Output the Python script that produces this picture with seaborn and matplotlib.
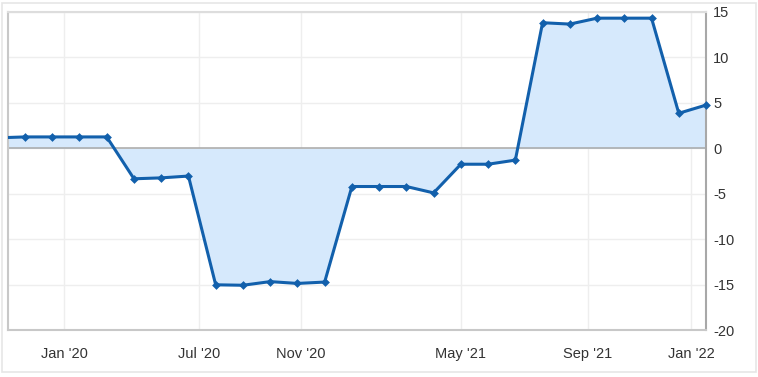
import matplotlib
matplotlib.use("Agg")
import matplotlib.pyplot as plt
import seaborn as sns
import pandas as pd
from matplotlib.patches import Rectangle

# ---- data ----
point_index = list(range(-1, 26))
values = [1.15, 1.25, 1.25, 1.25, 1.25, -3.35, -3.25, -3.05,
          -15.0, -15.05, -14.65, -14.85, -14.7,
          -4.2, -4.2, -4.2, -4.9, -1.75, -1.75, -1.3,
          13.8, 13.65, 14.3, 14.3, 14.3, 3.85, 4.75]
tick_pos = [1.43, 6.39, 10.13, 16.0, 20.67, 24.45]
tick_labels = ["Jan '20", "Jul '20", "Nov '20", "May '21", "Sep '21", "Jan '22"]
y_ticks = [15, 10, 5, 0, -5, -10, -15, -20]

df = pd.DataFrame({"idx": point_index, "value": values})

sns.set_theme(style="white")
plt.rcParams['font.family'] = ['Liberation Sans', 'DejaVu Sans']

W, H = 758, 377
fig = plt.figure(figsize=(W / 100, H / 100), dpi=100)
fig.patch.set_facecolor("white")
# outer light frame
fig.patches.append(Rectangle((2 / W, 5 / H), 754 / W, 369 / H, transform=fig.transFigure,
                             fill=False, edgecolor="#e6e6e6", linewidth=1.2))

left, right, top, bottom = 8, 706.3, 11.8, 330.3
ax = fig.add_axes([left / W, (H - bottom) / H, (right - left) / W, (bottom - top) / H])
ax.set_facecolor("white")

line_col = "#1260ac"
fill_col = "#d6e9fc"

ax.fill_between(df["idx"], df["value"], 0, color=fill_col, linewidth=0, zorder=1)
ax.axhline(0, color="#a8a8a8", linewidth=1.1, zorder=2)
sns.lineplot(data=df, x="idx", y="value", ax=ax, color=line_col, linewidth=2.2, zorder=3)
vis = df[df["idx"] >= 0]
sns.scatterplot(data=vis, x="idx", y="value", ax=ax, color=line_col, marker="D", s=20,
                linewidth=0, zorder=4, clip_on=False)

ax.set_xlim(-0.624, 25.01)
ax.set_ylim(-20, 15)
ax.set_xticks(tick_pos)
ax.set_xticklabels(tick_labels)
ax.set_yticks(y_ticks)
ax.set_yticklabels([str(v) for v in y_ticks])
ax.yaxis.tick_right()
ax.tick_params(axis="both", length=0, labelsize=10.5, labelcolor="#333333")
ax.tick_params(axis="y", pad=5)
ax.tick_params(axis="x", pad=12)
ax.grid(True, color="#eeeeee", linewidth=1)
ax.set_axisbelow(True)
ax.set_xlabel("")
ax.set_ylabel("")

for side, col in [("left", "#c8c8c8"), ("top", "#dddddd"), ("bottom", "#c8c8c8"), ("right", "#a8a8a8")]:
    ax.spines[side].set_visible(True)
    ax.spines[side].set_color(col)
    ax.spines[side].set_linewidth(1.5)

fig.savefig("out.png", dpi=100)
